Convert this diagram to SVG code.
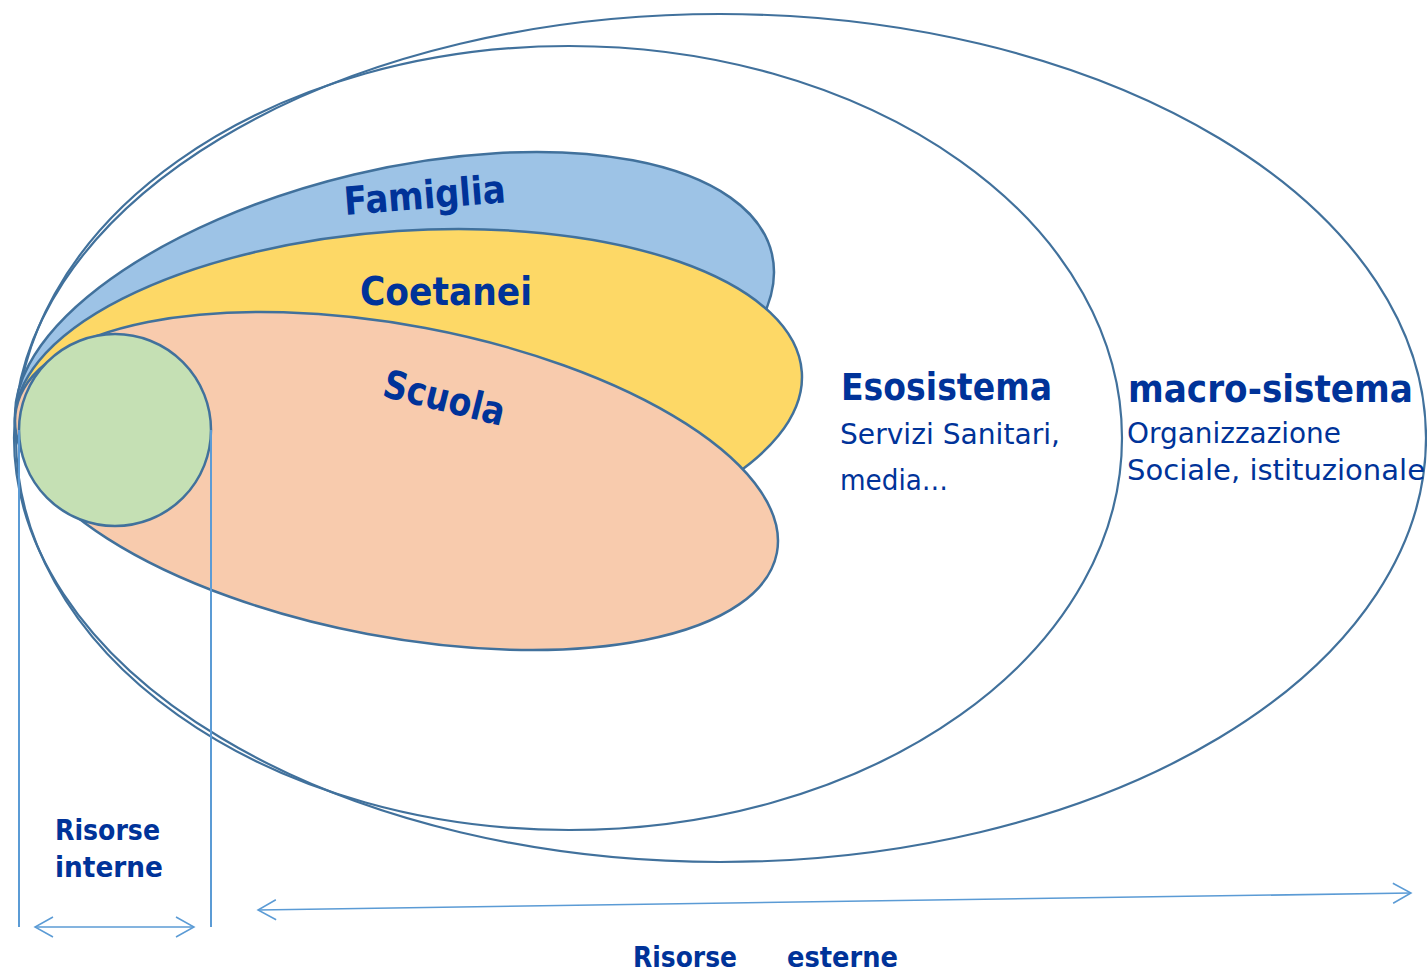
<svg xmlns="http://www.w3.org/2000/svg" width="1427" height="972" viewBox="0 0 1427 972">
<defs>
<style>
.ring{fill:none;stroke:#41719C;stroke-width:2.2}
.shape{stroke:#41719C;stroke-width:2.5}
.lbl{font-family:"DejaVu Sans","Liberation Sans",sans-serif;fill:#003399}
.b{font-weight:bold}
.guide{stroke:#5B9BD5;stroke-width:2;fill:none}
.arr{stroke:#5B9BD5;stroke-width:1.6;fill:none}
</style>
<marker id="chev" viewBox="-20 -12 22 24" refX="0" refY="0" markerWidth="22" markerHeight="24" markerUnits="userSpaceOnUse" orient="auto-start-reverse">
<path d="M-18,-10 L0,0 L-18,10" fill="none" stroke="#5B9BD5" stroke-width="1.5"/>
</marker>
</defs>
<rect width="1427" height="972" fill="#ffffff"/>
<g id="macro-sistema">
<ellipse class="ring" cx="720" cy="438" rx="706" ry="424"/>
<text class="lbl b" x="1128" y="402" font-size="37" textLength="285" lengthAdjust="spacingAndGlyphs">macro-sistema</text>
<text class="lbl" x="1127" y="443" font-size="29" textLength="214" lengthAdjust="spacingAndGlyphs">Organizzazione</text>
<text class="lbl" x="1127" y="480" font-size="29" textLength="298" lengthAdjust="spacingAndGlyphs">Sociale, istituzionale</text>
</g>
<g id="esosistema">
<ellipse class="ring" cx="569" cy="438" rx="553" ry="392"/>
<text class="lbl b" x="841" y="400" font-size="37" textLength="211" lengthAdjust="spacingAndGlyphs">Esosistema</text>
<text class="lbl" x="840" y="444" font-size="29" textLength="220" lengthAdjust="spacingAndGlyphs">Servizi Sanitari,</text>
<text class="lbl" x="840" y="490" font-size="29" textLength="108" lengthAdjust="spacingAndGlyphs">media…</text>
</g>
<g id="famiglia">
<ellipse class="shape" fill="#9DC3E6" cx="394.5" cy="343.5" rx="387.9" ry="173.8" transform="rotate(-13.41 394.5 343.5)"/>
<text class="lbl b" x="345" y="215" font-size="39" textLength="162" lengthAdjust="spacingAndGlyphs" transform="rotate(-4.5 345 215)">Famiglia</text>
</g>
<g id="coetanei">
<ellipse class="shape" fill="#FDD866" cx="408.5" cy="398.5" rx="394.2" ry="167.8" transform="rotate(-3.82 408.5 398.5)"/>
<text class="lbl b" x="360" y="305" font-size="39" textLength="172" lengthAdjust="spacingAndGlyphs">Coetanei</text>
</g>
<g id="scuola">
<ellipse class="shape" fill="#F8CBAD" cx="396.5" cy="481" rx="387.1" ry="155.7" transform="rotate(10.7 396.5 481)"/>
<text class="lbl b" x="381" y="396" font-size="39" textLength="124" lengthAdjust="spacingAndGlyphs" transform="rotate(14 381 396)">Scuola</text>
</g>
<g id="individuo">
<circle class="shape" fill="#C5E0B4" cx="115" cy="430" r="96"/>
</g>
<g id="connectors">
<line class="guide" x1="19" y1="430" x2="19" y2="927"/>
<line class="guide" x1="211" y1="430" x2="211" y2="927"/>
<line class="arr" x1="35" y1="927" x2="194" y2="927" marker-start="url(#chev)" marker-end="url(#chev)"/>
<line class="arr" x1="258" y1="910" x2="1411" y2="893" marker-start="url(#chev)" marker-end="url(#chev)"/>
</g>
<g id="risorse-interne">
<text class="lbl b" x="55" y="840" font-size="29" textLength="105" lengthAdjust="spacingAndGlyphs">Risorse</text>
<text class="lbl b" x="55" y="877" font-size="29" textLength="108" lengthAdjust="spacingAndGlyphs">interne</text>
</g>
<g id="risorse-esterne">
<text class="lbl b" x="633" y="967" font-size="29" textLength="104" lengthAdjust="spacingAndGlyphs">Risorse</text>
<text class="lbl b" x="787" y="967" font-size="29" textLength="111" lengthAdjust="spacingAndGlyphs">esterne</text>
</g>
</svg>
